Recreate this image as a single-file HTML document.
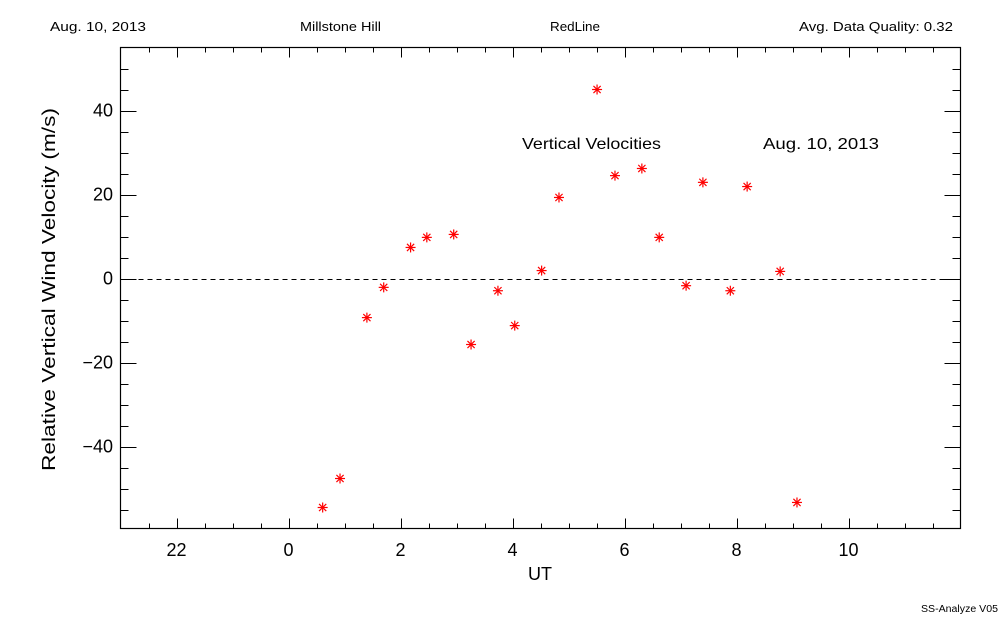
<!DOCTYPE html>
<html><head><meta charset="utf-8"><style>
body{margin:0;background:#fff;}
svg{display:block;font-family:"Liberation Sans",sans-serif;}
</style></head><body>
<svg id="chart" width="1000" height="625" viewBox="0 0 1000 625">
<rect width="1000" height="625" fill="#fff"/>
<text x="50" y="31" font-size="13" textLength="96" lengthAdjust="spacingAndGlyphs">Aug. 10, 2013</text>
<text x="300" y="31" font-size="13" textLength="81" lengthAdjust="spacingAndGlyphs">Millstone Hill</text>
<text x="550" y="31" font-size="13" textLength="50" lengthAdjust="spacingAndGlyphs">RedLine</text>
<text x="799" y="31" font-size="13" textLength="154" lengthAdjust="spacingAndGlyphs">Avg. Data Quality: 0.32</text>
<text x="522" y="149" font-size="16" textLength="139" lengthAdjust="spacingAndGlyphs">Vertical Velocities</text>
<text x="763" y="149" font-size="16" textLength="116" lengthAdjust="spacingAndGlyphs">Aug. 10, 2013</text>
<text x="528" y="580" font-size="18" textLength="24" lengthAdjust="spacingAndGlyphs">UT</text>
<text transform="translate(55,471) rotate(-90)" font-size="18" textLength="363" lengthAdjust="spacingAndGlyphs">Relative Vertical Wind Velocity (m/s)</text>
<text x="921" y="612" font-size="10" textLength="77" lengthAdjust="spacingAndGlyphs">SS-Analyze V05</text>
<g id="axes"></g>
<g id="marks"></g>
</svg>
<script>
const uts=[0.61,0.92,1.40,1.70,2.18,2.47,2.95,3.26,3.74,4.04,4.52,4.83,5.51,5.83,6.31,6.62,7.10,7.40,7.89,8.19,8.78,9.08];
const velocities=[-54.5,-47.6,-9.3,-2.1,7.4,9.8,10.5,-15.7,-2.9,-11.2,1.9,19.3,45.0,24.5,26.2,9.8,-1.7,22.9,-2.9,21.9,1.7,-53.3];
const xTicks=[-2,0,2,4,6,8,10];
const xTickLabels=["22","0","2","4","6","8","10"];
const yTicks=[-40,-20,0,20,40];
const yTickLabels=["\u221240","\u221220","0","20","40"];
const L=120.5,R=960.5,T=47.5,B=528.5;
const xMin=-3,xMax=12,yMin=-59.5,yMax=55;
const xs=v=>L+(v-xMin)/(xMax-xMin)*(R-L);
const ys=v=>B-(v-yMin)/(yMax-yMin)*(B-T);
const NS="http://www.w3.org/2000/svg";
const ax=document.getElementById('axes'),mk=document.getElementById('marks');
function mkEl(t,a,p){const e=document.createElementNS(NS,t);for(const k in a)e.setAttribute(k,a[k]);p.appendChild(e);return e;}
const fr=mkEl('rect',{x:L,y:T,width:R-L,height:B-T,fill:'none',stroke:'#000','stroke-width':1.2},ax);


for(let v=xMin+0.5;v<xMax;v+=0.5){
  const major=Math.abs(v/2-Math.round(v/2))<1e-6;const len=major?10:5;const x=Math.round(xs(v))+0.5;
  const t1=mkEl('line',{x1:x,x2:x,y1:B,y2:B-len,stroke:'#000'},ax);
  
  
  const t2=mkEl('line',{x1:x,x2:x,y1:T,y2:T+len,stroke:'#000'},ax);
  
  
}
xTicks.forEach((v,i)=>{const t=mkEl('text',{x:xs(v),y:556,'font-size':18,'text-anchor':'middle'},ax);t.textContent=xTickLabels[i];
  
  });
for(let v=-55;v<=50;v+=5){
  const major=v%20===0;const len=major?16:8;const y=Math.round(ys(v))+0.5;
  const t1=mkEl('line',{x1:L,x2:L+len,y1:y,y2:y,stroke:'#000'},ax);
  
  
  const t2=mkEl('line',{x1:R,x2:R-len,y1:y,y2:y,stroke:'#000'},ax);
  
  
}
yTicks.forEach((v,i)=>{const t=mkEl('text',{x:113,y:ys(v)+6,'font-size':18,'text-anchor':'end'},ax);t.textContent=yTickLabels[i];
  
  });
const zl=mkEl('line',{x1:L,x2:R,y1:Math.round(ys(0))+0.5,y2:Math.round(ys(0))+0.5,stroke:'#000','stroke-dasharray':'5,4'},ax);


uts.forEach((u,i)=>{const cx=xs(u),cy=ys(velocities[i]);const r=5;
  const g=mkEl('g',{stroke:'#f00','stroke-width':1.2},mk);
  
  
  mkEl('line',{x1:cx-r,x2:cx+r,y1:cy,y2:cy},g);
  mkEl('line',{x1:cx,x2:cx,y1:cy-r,y2:cy+r},g);
  mkEl('line',{x1:cx-3.6,x2:cx+3.6,y1:cy-3.6,y2:cy+3.6},g);
  mkEl('line',{x1:cx-3.6,x2:cx+3.6,y1:cy+3.6,y2:cy-3.6},g);
});
</script>
</body></html>
